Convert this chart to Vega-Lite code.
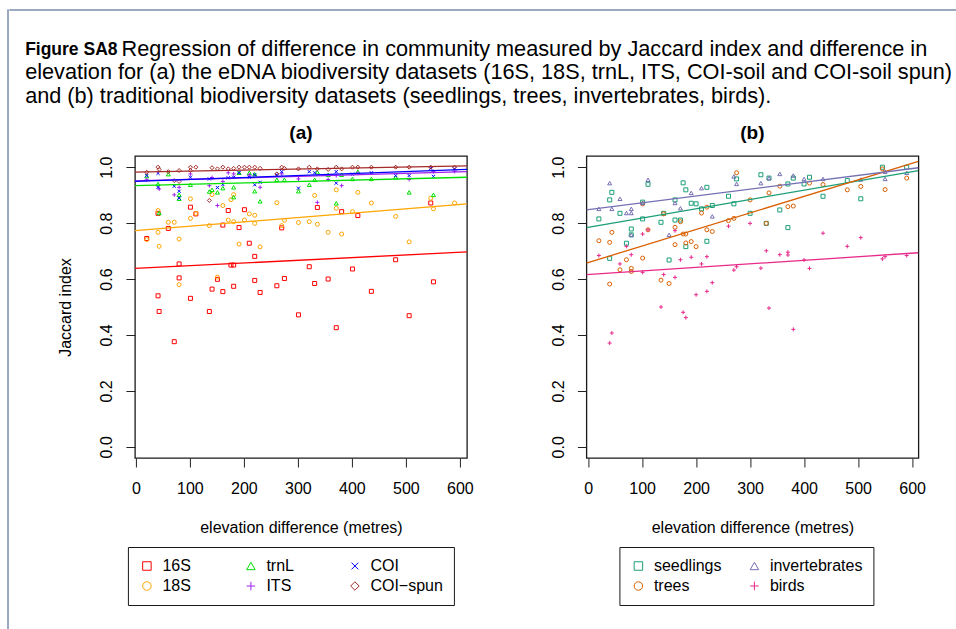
{
  "$schema": "https://vega.github.io/schema/vega-lite/v6.json",
  "background": "white",
  "padding": {"left": 7, "top": 9, "right": 0, "bottom": 0},
  "config": {
    "font": "Liberation Sans",
    "view": {"stroke": "#1a1a1a", "strokeWidth": 1.3},
    "axis": {
      "domain": false,
      "grid": false,
      "tickColor": "#222222",
      "tickSize": 9,
      "tickWidth": 1,
      "labelFont": "Liberation Sans",
      "labelFontSize": 16,
      "labelColor": "black",
      "labelFlush": false,
      "labelOverlap": false,
      "titleFont": "Liberation Sans",
      "titleFontSize": 16,
      "titleFontWeight": "normal",
      "titleColor": "black"
    },
    "legend": {
      "labelFont": "Liberation Sans",
      "labelFontSize": 16,
      "labelColor": "black",
      "strokeColor": "#1a1a1a",
      "fillColor": "white",
      "cornerRadius": 0,
      "symbolStrokeWidth": 1,
      "symbolSize": 72,
      "rowPadding": 4,
      "labelOffset": 7.5
    },
    "title": {"font": "Liberation Sans", "color": "black"}
  },
  "datasets": {
    "edna": [
      {"dataset": "16S", "elev": 101, "jaccard": 0.857}, {"dataset": "16S", "elev": 111, "jaccard": 0.833},
      {"dataset": "16S", "elev": 171, "jaccard": 0.845}, {"dataset": "16S", "elev": 201, "jaccard": 0.848},
      {"dataset": "16S", "elev": 210, "jaccard": 0.728}, {"dataset": "16S", "elev": 220, "jaccard": 0.681},
      {"dataset": "16S", "elev": 191, "jaccard": 0.784}, {"dataset": "16S", "elev": 161, "jaccard": 0.793},
      {"dataset": "16S", "elev": 336, "jaccard": 0.856}, {"dataset": "16S", "elev": 381, "jaccard": 0.841},
      {"dataset": "16S", "elev": 411, "jaccard": 0.827}, {"dataset": "16S", "elev": 270, "jaccard": 0.783},
      {"dataset": "16S", "elev": 80, "jaccard": 0.654}, {"dataset": "16S", "elev": 176, "jaccard": 0.650},
      {"dataset": "16S", "elev": 181, "jaccard": 0.650}, {"dataset": "16S", "elev": 321, "jaccard": 0.644},
      {"dataset": "16S", "elev": 401, "jaccard": 0.636}, {"dataset": "16S", "elev": 481, "jaccard": 0.669},
      {"dataset": "16S", "elev": 80, "jaccard": 0.604}, {"dataset": "16S", "elev": 151, "jaccard": 0.599},
      {"dataset": "16S", "elev": 41, "jaccard": 0.540}, {"dataset": "16S", "elev": 101, "jaccard": 0.531},
      {"dataset": "16S", "elev": 141, "jaccard": 0.564}, {"dataset": "16S", "elev": 161, "jaccard": 0.555},
      {"dataset": "16S", "elev": 181, "jaccard": 0.574}, {"dataset": "16S", "elev": 220, "jaccard": 0.595},
      {"dataset": "16S", "elev": 230, "jaccard": 0.552}, {"dataset": "16S", "elev": 261, "jaccard": 0.576},
      {"dataset": "16S", "elev": 275, "jaccard": 0.602}, {"dataset": "16S", "elev": 331, "jaccard": 0.584},
      {"dataset": "16S", "elev": 356, "jaccard": 0.600}, {"dataset": "16S", "elev": 436, "jaccard": 0.556},
      {"dataset": "16S", "elev": 551, "jaccard": 0.590}, {"dataset": "16S", "elev": 43, "jaccard": 0.484},
      {"dataset": "16S", "elev": 136, "jaccard": 0.484}, {"dataset": "16S", "elev": 71, "jaccard": 0.376},
      {"dataset": "16S", "elev": 301, "jaccard": 0.472}, {"dataset": "16S", "elev": 371, "jaccard": 0.426},
      {"dataset": "16S", "elev": 506, "jaccard": 0.469}, {"dataset": "16S", "elev": 20, "jaccard": 0.745},
      {"dataset": "16S", "elev": 546, "jaccard": 0.872}, {"dataset": "16S", "elev": 60, "jaccard": 0.781},
      {"dataset": "16S", "elev": 41, "jaccard": 0.835},

      {"dataset": "18S", "elev": 101, "jaccard": 0.887}, {"dataset": "18S", "elev": 141, "jaccard": 0.902},
      {"dataset": "18S", "elev": 181, "jaccard": 0.902}, {"dataset": "18S", "elev": 176, "jaccard": 0.884},
      {"dataset": "18S", "elev": 161, "jaccard": 0.863}, {"dataset": "18S", "elev": 41, "jaccard": 0.845},
      {"dataset": "18S", "elev": 111, "jaccard": 0.835}, {"dataset": "18S", "elev": 101, "jaccard": 0.817},
      {"dataset": "18S", "elev": 171, "jaccard": 0.811}, {"dataset": "18S", "elev": 210, "jaccard": 0.833},
      {"dataset": "18S", "elev": 220, "jaccard": 0.828}, {"dataset": "18S", "elev": 201, "jaccard": 0.811},
      {"dataset": "18S", "elev": 181, "jaccard": 0.805}, {"dataset": "18S", "elev": 220, "jaccard": 0.799},
      {"dataset": "18S", "elev": 136, "jaccard": 0.791}, {"dataset": "18S", "elev": 60, "jaccard": 0.803},
      {"dataset": "18S", "elev": 71, "jaccard": 0.803}, {"dataset": "18S", "elev": 41, "jaccard": 0.767},
      {"dataset": "18S", "elev": 20, "jaccard": 0.741}, {"dataset": "18S", "elev": 80, "jaccard": 0.743},
      {"dataset": "18S", "elev": 43, "jaccard": 0.717}, {"dataset": "18S", "elev": 191, "jaccard": 0.725},
      {"dataset": "18S", "elev": 230, "jaccard": 0.715}, {"dataset": "18S", "elev": 261, "jaccard": 0.873},
      {"dataset": "18S", "elev": 275, "jaccard": 0.810}, {"dataset": "18S", "elev": 270, "jaccard": 0.791},
      {"dataset": "18S", "elev": 301, "jaccard": 0.802}, {"dataset": "18S", "elev": 321, "jaccard": 0.805},
      {"dataset": "18S", "elev": 336, "jaccard": 0.796}, {"dataset": "18S", "elev": 331, "jaccard": 0.899},
      {"dataset": "18S", "elev": 371, "jaccard": 0.919}, {"dataset": "18S", "elev": 371, "jaccard": 0.853},
      {"dataset": "18S", "elev": 381, "jaccard": 0.761}, {"dataset": "18S", "elev": 356, "jaccard": 0.767},
      {"dataset": "18S", "elev": 401, "jaccard": 0.841}, {"dataset": "18S", "elev": 411, "jaccard": 0.910},
      {"dataset": "18S", "elev": 436, "jaccard": 0.872}, {"dataset": "18S", "elev": 481, "jaccard": 0.824},
      {"dataset": "18S", "elev": 506, "jaccard": 0.733}, {"dataset": "18S", "elev": 546, "jaccard": 0.889},
      {"dataset": "18S", "elev": 551, "jaccard": 0.851}, {"dataset": "18S", "elev": 590, "jaccard": 0.872},
      {"dataset": "18S", "elev": 80, "jaccard": 0.580}, {"dataset": "18S", "elev": 151, "jaccard": 0.607},

      {"dataset": "trnL", "elev": 41, "jaccard": 0.940}, {"dataset": "trnL", "elev": 43, "jaccard": 0.836},
      {"dataset": "trnL", "elev": 101, "jaccard": 0.937}, {"dataset": "trnL", "elev": 80, "jaccard": 0.901},
      {"dataset": "trnL", "elev": 80, "jaccard": 0.887}, {"dataset": "trnL", "elev": 136, "jaccard": 0.913},
      {"dataset": "trnL", "elev": 141, "jaccard": 0.919}, {"dataset": "trnL", "elev": 151, "jaccard": 0.910},
      {"dataset": "trnL", "elev": 161, "jaccard": 0.925}, {"dataset": "trnL", "elev": 181, "jaccard": 0.928},
      {"dataset": "trnL", "elev": 181, "jaccard": 0.893}, {"dataset": "trnL", "elev": 220, "jaccard": 0.914},
      {"dataset": "trnL", "elev": 230, "jaccard": 0.878}, {"dataset": "trnL", "elev": 261, "jaccard": 0.955},
      {"dataset": "trnL", "elev": 275, "jaccard": 0.955}, {"dataset": "trnL", "elev": 301, "jaccard": 0.914},
      {"dataset": "trnL", "elev": 321, "jaccard": 0.937}, {"dataset": "trnL", "elev": 331, "jaccard": 0.955},
      {"dataset": "trnL", "elev": 356, "jaccard": 0.973}, {"dataset": "trnL", "elev": 371, "jaccard": 0.871},
      {"dataset": "trnL", "elev": 381, "jaccard": 0.973}, {"dataset": "trnL", "elev": 401, "jaccard": 0.958},
      {"dataset": "trnL", "elev": 436, "jaccard": 0.958}, {"dataset": "trnL", "elev": 481, "jaccard": 0.964},
      {"dataset": "trnL", "elev": 506, "jaccard": 0.910}, {"dataset": "trnL", "elev": 551, "jaccard": 0.901},
      {"dataset": "trnL", "elev": 210, "jaccard": 0.980}, {"dataset": "trnL", "elev": 191, "jaccard": 0.980},
      {"dataset": "trnL", "elev": 220, "jaccard": 0.975}, {"dataset": "trnL", "elev": 60, "jaccard": 0.975},
      {"dataset": "trnL", "elev": 336, "jaccard": 0.982}, {"dataset": "trnL", "elev": 411, "jaccard": 0.984},
      {"dataset": "trnL", "elev": 20, "jaccard": 0.968},

      {"dataset": "ITS", "elev": 43, "jaccard": 0.922}, {"dataset": "ITS", "elev": 71, "jaccard": 0.901},
      {"dataset": "ITS", "elev": 80, "jaccard": 0.928}, {"dataset": "ITS", "elev": 101, "jaccard": 0.976},
      {"dataset": "ITS", "elev": 136, "jaccard": 0.934}, {"dataset": "ITS", "elev": 141, "jaccard": 0.963},
      {"dataset": "ITS", "elev": 151, "jaccard": 0.863}, {"dataset": "ITS", "elev": 161, "jaccard": 0.949},
      {"dataset": "ITS", "elev": 181, "jaccard": 0.976}, {"dataset": "ITS", "elev": 230, "jaccard": 0.928},
      {"dataset": "ITS", "elev": 301, "jaccard": 0.958}, {"dataset": "ITS", "elev": 336, "jaccard": 0.874},
      {"dataset": "ITS", "elev": 356, "jaccard": 0.956}, {"dataset": "ITS", "elev": 381, "jaccard": 0.934},
      {"dataset": "ITS", "elev": 371, "jaccard": 0.970}, {"dataset": "ITS", "elev": 506, "jaccard": 0.956},
      {"dataset": "ITS", "elev": 551, "jaccard": 0.984}, {"dataset": "ITS", "elev": 171, "jaccard": 0.980},
      {"dataset": "ITS", "elev": 270, "jaccard": 0.976}, {"dataset": "ITS", "elev": 411, "jaccard": 0.978},
      {"dataset": "ITS", "elev": 20, "jaccard": 0.955}, {"dataset": "ITS", "elev": 210, "jaccard": 0.972},
      {"dataset": "ITS", "elev": 590, "jaccard": 0.985},

      {"dataset": "COI", "elev": 20, "jaccard": 0.970}, {"dataset": "COI", "elev": 41, "jaccard": 0.978},
      {"dataset": "COI", "elev": 41, "jaccard": 0.928}, {"dataset": "COI", "elev": 71, "jaccard": 0.932},
      {"dataset": "COI", "elev": 80, "jaccard": 0.914}, {"dataset": "COI", "elev": 80, "jaccard": 0.889},
      {"dataset": "COI", "elev": 101, "jaccard": 0.964}, {"dataset": "COI", "elev": 136, "jaccard": 0.958},
      {"dataset": "COI", "elev": 151, "jaccard": 0.927}, {"dataset": "COI", "elev": 161, "jaccard": 0.938},
      {"dataset": "COI", "elev": 171, "jaccard": 0.962}, {"dataset": "COI", "elev": 181, "jaccard": 0.964},
      {"dataset": "COI", "elev": 210, "jaccard": 0.964}, {"dataset": "COI", "elev": 220, "jaccard": 0.937},
      {"dataset": "COI", "elev": 230, "jaccard": 0.946}, {"dataset": "COI", "elev": 261, "jaccard": 0.973},
      {"dataset": "COI", "elev": 270, "jaccard": 0.984}, {"dataset": "COI", "elev": 301, "jaccard": 0.925},
      {"dataset": "COI", "elev": 321, "jaccard": 0.984}, {"dataset": "COI", "elev": 331, "jaccard": 0.980},
      {"dataset": "COI", "elev": 371, "jaccard": 0.943}, {"dataset": "COI", "elev": 371, "jaccard": 0.984},
      {"dataset": "COI", "elev": 401, "jaccard": 0.975}, {"dataset": "COI", "elev": 436, "jaccard": 0.980},
      {"dataset": "COI", "elev": 481, "jaccard": 0.970}, {"dataset": "COI", "elev": 506, "jaccard": 0.970},
      {"dataset": "COI", "elev": 551, "jaccard": 0.967}, {"dataset": "COI", "elev": 546, "jaccard": 0.996},
      {"dataset": "COI", "elev": 590, "jaccard": 0.994}, {"dataset": "COI", "elev": 191, "jaccard": 0.980},
      {"dataset": "COI", "elev": 220, "jaccard": 0.973},

      {"dataset": "COI-spun", "elev": 20, "jaccard": 0.982}, {"dataset": "COI-spun", "elev": 41, "jaccard": 1.0},
      {"dataset": "COI-spun", "elev": 43, "jaccard": 0.992}, {"dataset": "COI-spun", "elev": 60, "jaccard": 0.984},
      {"dataset": "COI-spun", "elev": 80, "jaccard": 0.988}, {"dataset": "COI-spun", "elev": 80, "jaccard": 0.949},
      {"dataset": "COI-spun", "elev": 71, "jaccard": 0.952}, {"dataset": "COI-spun", "elev": 101, "jaccard": 1.0},
      {"dataset": "COI-spun", "elev": 111, "jaccard": 1.0}, {"dataset": "COI-spun", "elev": 101, "jaccard": 0.988},
      {"dataset": "COI-spun", "elev": 136, "jaccard": 0.881}, {"dataset": "COI-spun", "elev": 141, "jaccard": 0.998},
      {"dataset": "COI-spun", "elev": 151, "jaccard": 0.994}, {"dataset": "COI-spun", "elev": 161, "jaccard": 1.0},
      {"dataset": "COI-spun", "elev": 171, "jaccard": 0.994}, {"dataset": "COI-spun", "elev": 181, "jaccard": 0.996},
      {"dataset": "COI-spun", "elev": 191, "jaccard": 1.0}, {"dataset": "COI-spun", "elev": 201, "jaccard": 1.0},
      {"dataset": "COI-spun", "elev": 210, "jaccard": 1.0}, {"dataset": "COI-spun", "elev": 220, "jaccard": 1.0},
      {"dataset": "COI-spun", "elev": 230, "jaccard": 0.996}, {"dataset": "COI-spun", "elev": 270, "jaccard": 1.0},
      {"dataset": "COI-spun", "elev": 275, "jaccard": 0.996}, {"dataset": "COI-spun", "elev": 301, "jaccard": 0.994},
      {"dataset": "COI-spun", "elev": 321, "jaccard": 1.0}, {"dataset": "COI-spun", "elev": 336, "jaccard": 0.994},
      {"dataset": "COI-spun", "elev": 356, "jaccard": 0.992}, {"dataset": "COI-spun", "elev": 371, "jaccard": 1.0},
      {"dataset": "COI-spun", "elev": 381, "jaccard": 0.994}, {"dataset": "COI-spun", "elev": 401, "jaccard": 1.0},
      {"dataset": "COI-spun", "elev": 411, "jaccard": 1.0}, {"dataset": "COI-spun", "elev": 436, "jaccard": 1.0},
      {"dataset": "COI-spun", "elev": 481, "jaccard": 1.0}, {"dataset": "COI-spun", "elev": 506, "jaccard": 1.0},
      {"dataset": "COI-spun", "elev": 546, "jaccard": 1.0}, {"dataset": "COI-spun", "elev": 590, "jaccard": 1.0},
      {"dataset": "COI-spun", "elev": 261, "jaccard": 0.976}
    ],
    "ednaFit": [
      {"dataset": "16S", "elev": -1.85, "jaccard": 0.638}, {"dataset": "16S", "elev": 612.95, "jaccard": 0.697},
      {"dataset": "18S", "elev": -1.85, "jaccard": 0.773}, {"dataset": "18S", "elev": 612.95, "jaccard": 0.869},
      {"dataset": "trnL", "elev": -1.85, "jaccard": 0.934}, {"dataset": "trnL", "elev": 612.95, "jaccard": 0.964},
      {"dataset": "ITS", "elev": -1.85, "jaccard": 0.951}, {"dataset": "ITS", "elev": 612.95, "jaccard": 0.984},
      {"dataset": "COI", "elev": -1.85, "jaccard": 0.949}, {"dataset": "COI", "elev": 612.95, "jaccard": 0.992},
      {"dataset": "COI-spun", "elev": -1.85, "jaccard": 0.982}, {"dataset": "COI-spun", "elev": 612.95, "jaccard": 1.005}
    ],
    "trad": [
      {"survey": "seedlings", "elev": 44, "jaccard": 0.910}, {"survey": "seedlings", "elev": 40, "jaccard": 0.883},
      {"survey": "seedlings", "elev": 59, "jaccard": 0.835}, {"survey": "seedlings", "elev": 20, "jaccard": 0.815},
      {"survey": "seedlings", "elev": 80, "jaccard": 0.779}, {"survey": "seedlings", "elev": 80, "jaccard": 0.758},
      {"survey": "seedlings", "elev": 71, "jaccard": 0.728}, {"survey": "seedlings", "elev": 40, "jaccard": 0.674},
      {"survey": "seedlings", "elev": 111, "jaccard": 0.939}, {"survey": "seedlings", "elev": 101, "jaccard": 0.875},
      {"survey": "seedlings", "elev": 101, "jaccard": 0.815}, {"survey": "seedlings", "elev": 135, "jaccard": 0.803},
      {"survey": "seedlings", "elev": 140, "jaccard": 0.835}, {"survey": "seedlings", "elev": 150, "jaccard": 0.668},
      {"survey": "seedlings", "elev": 161, "jaccard": 0.883}, {"survey": "seedlings", "elev": 161, "jaccard": 0.811},
      {"survey": "seedlings", "elev": 171, "jaccard": 0.811}, {"survey": "seedlings", "elev": 176, "jaccard": 0.944},
      {"survey": "seedlings", "elev": 181, "jaccard": 0.919}, {"survey": "seedlings", "elev": 181, "jaccard": 0.716},
      {"survey": "seedlings", "elev": 191, "jaccard": 0.871}, {"survey": "seedlings", "elev": 200, "jaccard": 0.869},
      {"survey": "seedlings", "elev": 210, "jaccard": 0.851}, {"survey": "seedlings", "elev": 220, "jaccard": 0.928},
      {"survey": "seedlings", "elev": 220, "jaccard": 0.735}, {"survey": "seedlings", "elev": 230, "jaccard": 0.863},
      {"survey": "seedlings", "elev": 260, "jaccard": 0.896}, {"survey": "seedlings", "elev": 270, "jaccard": 0.869},
      {"survey": "seedlings", "elev": 275, "jaccard": 0.958}, {"survey": "seedlings", "elev": 300, "jaccard": 0.835},
      {"survey": "seedlings", "elev": 320, "jaccard": 0.973}, {"survey": "seedlings", "elev": 330, "jaccard": 0.799},
      {"survey": "seedlings", "elev": 335, "jaccard": 0.961}, {"survey": "seedlings", "elev": 355, "jaccard": 0.847},
      {"survey": "seedlings", "elev": 370, "jaccard": 0.940}, {"survey": "seedlings", "elev": 370, "jaccard": 0.784},
      {"survey": "seedlings", "elev": 380, "jaccard": 0.961}, {"survey": "seedlings", "elev": 400, "jaccard": 0.940},
      {"survey": "seedlings", "elev": 410, "jaccard": 0.964}, {"survey": "seedlings", "elev": 435, "jaccard": 0.896},
      {"survey": "seedlings", "elev": 480, "jaccard": 0.952}, {"survey": "seedlings", "elev": 505, "jaccard": 0.887},
      {"survey": "seedlings", "elev": 545, "jaccard": 1.0}, {"survey": "seedlings", "elev": 590, "jaccard": 1.0},

      {"survey": "trees", "elev": 20, "jaccard": 0.737}, {"survey": "trees", "elev": 40, "jaccard": 0.731},
      {"survey": "trees", "elev": 44, "jaccard": 0.767}, {"survey": "trees", "elev": 40, "jaccard": 0.582},
      {"survey": "trees", "elev": 59, "jaccard": 0.633}, {"survey": "trees", "elev": 71, "jaccard": 0.669},
      {"survey": "trees", "elev": 80, "jaccard": 0.638}, {"survey": "trees", "elev": 80, "jaccard": 0.627},
      {"survey": "trees", "elev": 101, "jaccard": 0.869}, {"survey": "trees", "elev": 101, "jaccard": 0.675},
      {"survey": "trees", "elev": 111, "jaccard": 0.776}, {"survey": "trees", "elev": 135, "jaccard": 0.596},
      {"survey": "trees", "elev": 140, "jaccard": 0.833}, {"survey": "trees", "elev": 150, "jaccard": 0.584},
      {"survey": "trees", "elev": 161, "jaccard": 0.785}, {"survey": "trees", "elev": 161, "jaccard": 0.723},
      {"survey": "trees", "elev": 171, "jaccard": 0.805}, {"survey": "trees", "elev": 176, "jaccard": 0.761},
      {"survey": "trees", "elev": 181, "jaccard": 0.761}, {"survey": "trees", "elev": 181, "jaccard": 0.729},
      {"survey": "trees", "elev": 191, "jaccard": 0.734}, {"survey": "trees", "elev": 200, "jaccard": 0.716},
      {"survey": "trees", "elev": 210, "jaccard": 0.836}, {"survey": "trees", "elev": 220, "jaccard": 0.857},
      {"survey": "trees", "elev": 220, "jaccard": 0.776}, {"survey": "trees", "elev": 230, "jaccard": 0.770},
      {"survey": "trees", "elev": 260, "jaccard": 0.809}, {"survey": "trees", "elev": 270, "jaccard": 0.817},
      {"survey": "trees", "elev": 275, "jaccard": 0.980}, {"survey": "trees", "elev": 300, "jaccard": 0.883},
      {"survey": "trees", "elev": 330, "jaccard": 0.799}, {"survey": "trees", "elev": 335, "jaccard": 0.908},
      {"survey": "trees", "elev": 355, "jaccard": 0.932}, {"survey": "trees", "elev": 370, "jaccard": 0.859},
      {"survey": "trees", "elev": 380, "jaccard": 0.861}, {"survey": "trees", "elev": 410, "jaccard": 0.943},
      {"survey": "trees", "elev": 435, "jaccard": 0.938}, {"survey": "trees", "elev": 480, "jaccard": 0.919},
      {"survey": "trees", "elev": 505, "jaccard": 0.931}, {"survey": "trees", "elev": 545, "jaccard": 0.994},
      {"survey": "trees", "elev": 550, "jaccard": 0.920}, {"survey": "trees", "elev": 590, "jaccard": 0.961},

      {"survey": "invertebrates", "elev": 40, "jaccard": 0.943}, {"survey": "invertebrates", "elev": 59, "jaccard": 0.887},
      {"survey": "invertebrates", "elev": 20, "jaccard": 0.851}, {"survey": "invertebrates", "elev": 44, "jaccard": 0.851},
      {"survey": "invertebrates", "elev": 71, "jaccard": 0.836}, {"survey": "invertebrates", "elev": 80, "jaccard": 0.836},
      {"survey": "invertebrates", "elev": 80, "jaccard": 0.851}, {"survey": "invertebrates", "elev": 80, "jaccard": 0.758},
      {"survey": "invertebrates", "elev": 111, "jaccard": 0.955}, {"survey": "invertebrates", "elev": 101, "jaccard": 0.872},
      {"survey": "invertebrates", "elev": 150, "jaccard": 0.758}, {"survey": "invertebrates", "elev": 161, "jaccard": 0.872},
      {"survey": "invertebrates", "elev": 171, "jaccard": 0.853}, {"survey": "invertebrates", "elev": 191, "jaccard": 0.908},
      {"survey": "invertebrates", "elev": 210, "jaccard": 0.925}, {"survey": "invertebrates", "elev": 230, "jaccard": 0.824},
      {"survey": "invertebrates", "elev": 270, "jaccard": 0.967}, {"survey": "invertebrates", "elev": 275, "jaccard": 0.940},
      {"survey": "invertebrates", "elev": 320, "jaccard": 0.943}, {"survey": "invertebrates", "elev": 335, "jaccard": 0.961},
      {"survey": "invertebrates", "elev": 355, "jaccard": 0.976}, {"survey": "invertebrates", "elev": 380, "jaccard": 0.970},
      {"survey": "invertebrates", "elev": 400, "jaccard": 0.958}, {"survey": "invertebrates", "elev": 435, "jaccard": 0.958},
      {"survey": "invertebrates", "elev": 505, "jaccard": 0.956}, {"survey": "invertebrates", "elev": 550, "jaccard": 0.984},
      {"survey": "invertebrates", "elev": 550, "jaccard": 0.958}, {"survey": "invertebrates", "elev": 590, "jaccard": 0.980},

      {"survey": "birds", "elev": 20, "jaccard": 0.684}, {"survey": "birds", "elev": 59, "jaccard": 0.654},
      {"survey": "birds", "elev": 71, "jaccard": 0.717}, {"survey": "birds", "elev": 80, "jaccard": 0.687},
      {"survey": "birds", "elev": 101, "jaccard": 0.761}, {"survey": "birds", "elev": 101, "jaccard": 0.624},
      {"survey": "birds", "elev": 111, "jaccard": 0.776}, {"survey": "birds", "elev": 140, "jaccard": 0.616},
      {"survey": "birds", "elev": 161, "jaccard": 0.606}, {"survey": "birds", "elev": 161, "jaccard": 0.773},
      {"survey": "birds", "elev": 171, "jaccard": 0.669}, {"survey": "birds", "elev": 191, "jaccard": 0.678},
      {"survey": "birds", "elev": 210, "jaccard": 0.654}, {"survey": "birds", "elev": 220, "jaccard": 0.680},
      {"survey": "birds", "elev": 230, "jaccard": 0.587}, {"survey": "birds", "elev": 220, "jaccard": 0.556},
      {"survey": "birds", "elev": 200, "jaccard": 0.544}, {"survey": "birds", "elev": 260, "jaccard": 0.789},
      {"survey": "birds", "elev": 270, "jaccard": 0.632}, {"survey": "birds", "elev": 275, "jaccard": 0.644},
      {"survey": "birds", "elev": 300, "jaccard": 0.799}, {"survey": "birds", "elev": 320, "jaccard": 0.639},
      {"survey": "birds", "elev": 330, "jaccard": 0.701}, {"survey": "birds", "elev": 355, "jaccard": 0.687},
      {"survey": "birds", "elev": 370, "jaccard": 0.696}, {"survey": "birds", "elev": 370, "jaccard": 0.686},
      {"survey": "birds", "elev": 400, "jaccard": 0.668}, {"survey": "birds", "elev": 410, "jaccard": 0.638},
      {"survey": "birds", "elev": 435, "jaccard": 0.764}, {"survey": "birds", "elev": 480, "jaccard": 0.717},
      {"survey": "birds", "elev": 505, "jaccard": 0.748}, {"survey": "birds", "elev": 545, "jaccard": 0.672},
      {"survey": "birds", "elev": 550, "jaccard": 0.680}, {"survey": "birds", "elev": 590, "jaccard": 0.684},
      {"survey": "birds", "elev": 135, "jaccard": 0.500}, {"survey": "birds", "elev": 176, "jaccard": 0.481},
      {"survey": "birds", "elev": 181, "jaccard": 0.462}, {"survey": "birds", "elev": 335, "jaccard": 0.496},
      {"survey": "birds", "elev": 380, "jaccard": 0.420}, {"survey": "birds", "elev": 44, "jaccard": 0.407},
      {"survey": "birds", "elev": 40, "jaccard": 0.371}
    ],
    "tradFit": [
      {"survey": "seedlings", "elev": -3.1, "jaccard": 0.784}, {"survey": "seedlings", "elev": 611.7, "jaccard": 0.988},
      {"survey": "trees", "elev": -3.1, "jaccard": 0.657}, {"survey": "trees", "elev": 611.7, "jaccard": 1.021},
      {"survey": "invertebrates", "elev": -3.1, "jaccard": 0.847}, {"survey": "invertebrates", "elev": 611.7, "jaccard": 0.998},
      {"survey": "birds", "elev": -3.1, "jaccard": 0.616}, {"survey": "birds", "elev": 611.7, "jaccard": 0.694}
    ]
  },
  "hconcat": [
    {
      "width": 0.01,
      "height": 660,
      "data": {"values": []},
      "mark": "point",
      "view": {"stroke": "#7a8cab", "strokeWidth": 1.5}
    },
    {
      "vconcat": [
        {
          "width": 1040,
          "height": 0.01,
          "data": {"values": []},
          "mark": "point",
          "view": {"stroke": "#7a8cab", "strokeWidth": 1.5},
          "title": {
            "text": "Figure SA8",
            "subtitle": [
              "\u200b\u00a0\u00a0\u00a0\u00a0\u00a0\u00a0\u00a0\u00a0\u00a0\u00a0\u00a0\u00a0\u00a0\u00a0\u00a0\u00a0Regression of difference in community measured by Jaccard index and difference in",
              "elevation for (a) the eDNA biodiversity datasets (16S, 18S, trnL, ITS, COI-soil and COI-soil spun)",
              "and (b) traditional biodiversity datasets (seedlings, trees, invertebrates, birds)."
            ],
            "anchor": "start",
            "orient": "bottom",
            "frame": "group",
            "baseline": "top",
            "offset": 31,
            "dx": 15,
            "font": "Liberation Sans",
            "fontSize": 17.5,
            "fontWeight": "bold",
            "color": "black",
            "subtitleFont": "Liberation Sans",
            "subtitleFontSize": 21.7,
            "subtitleColor": "black",
            "subtitleLineHeight": 23.5,
            "subtitlePadding": -19.6
          }
        },
        {
          "hconcat": [
            {
              "width": 332,
              "height": 302,
              "title": {"text": "(a)", "fontSize": 19, "fontWeight": "bold", "offset": 13},
              "layer": [
                {
                  "data": {"name": "edna"},
                  "mark": {"type": "point", "filled": false, "size": 16, "strokeWidth": 1, "opacity": 1, "clip": true},
                  "encoding": {
                    "x": {"field": "elev", "type": "quantitative",
                          "scale": {"domain": [-1.85, 612.95], "nice": false, "zero": false},
                          "axis": {"values": [0, 100, 200, 300, 400, 500, 600], "labelPadding": 13, "titlePadding": 23},
                          "title": "elevation difference (metres)"},
                    "y": {"field": "jaccard", "type": "quantitative",
                          "scale": {"domain": [-0.04, 1.04], "nice": false, "zero": false},
                          "axis": {"values": [0, 0.2, 0.4, 0.6, 0.8, 1.0], "format": ".1f", "labelAngle": 270,
                                   "labelAlign": "center", "labelBaseline": "alphabetic", "labelPadding": 14,
                                   "titlePadding": 25},
                          "title": "Jaccard index"},
                    "color": {"field": "dataset", "type": "nominal",
                              "scale": {"domain": ["16S", "18S", "trnL", "ITS", "COI", "COI-spun"],
                                        "range": ["#ff0000", "#ffa500", "#00e000", "#a020f0", "#0000ff", "#a52a2a"]},
                              "legend": {"orient": "none", "legendX": -7, "legendY": 391, "columns": 3,
                                         "title": null, "padding": 11, "columnPadding": 8, "gridAlign": "all",
                                         "labelExpr": "replace(datum.label, '-', '\u2212')"}},
                    "shape": {"field": "dataset", "type": "nominal",
                              "scale": {"domain": ["16S", "18S", "trnL", "ITS", "COI", "COI-spun"],
                                        "range": ["square", "circle", "triangle-up", "M-1,0L1,0M0,-1L0,1", "M-0.8,-0.8L0.8,0.8M0.8,-0.8L-0.8,0.8", "diamond"]},
                              "legend": {"orient": "none", "legendX": -7, "legendY": 391, "columns": 3,
                                         "title": null, "padding": 11, "columnPadding": 8, "gridAlign": "all",
                                         "labelExpr": "replace(datum.label, '-', '\u2212')"}}
                  }
                },
                {
                  "data": {"name": "ednaFit"},
                  "mark": {"type": "line", "strokeWidth": 1.3, "clip": true},
                  "encoding": {
                    "x": {"field": "elev", "type": "quantitative"},
                    "y": {"field": "jaccard", "type": "quantitative"},
                    "color": {"field": "dataset", "type": "nominal", "legend": null},
                    "detail": {"field": "dataset"}
                  }
                }
              ]
            },
            {
              "width": 332,
              "height": 302,
              "title": {"text": "(b)", "fontSize": 19, "fontWeight": "bold", "offset": 13},
              "layer": [
                {
                  "data": {"name": "trad"},
                  "mark": {"type": "point", "filled": false, "size": 16, "strokeWidth": 1, "opacity": 1, "clip": true},
                  "encoding": {
                    "x": {"field": "elev", "type": "quantitative",
                          "scale": {"domain": [-3.1, 611.7], "nice": false, "zero": false},
                          "axis": {"values": [0, 100, 200, 300, 400, 500, 600], "labelPadding": 13, "titlePadding": 23},
                          "title": "elevation difference (metres)"},
                    "y": {"field": "jaccard", "type": "quantitative",
                          "scale": {"domain": [-0.04, 1.04], "nice": false, "zero": false},
                          "axis": {"values": [0, 0.2, 0.4, 0.6, 0.8, 1.0], "format": ".1f", "labelAngle": 270,
                                   "labelAlign": "center", "labelBaseline": "alphabetic", "labelPadding": 14},
                          "title": null},
                    "color": {"field": "survey", "type": "nominal",
                              "scale": {"domain": ["seedlings", "trees", "invertebrates", "birds"],
                                        "range": ["#1b9e77", "#d95f02", "#7570b3", "#e7298a"]},
                              "legend": {"orient": "none", "legendX": 33, "legendY": 391, "columns": 2,
                                         "title": null, "padding": 11, "columnPadding": -2.5, "gridAlign": "all"}},
                    "shape": {"field": "survey", "type": "nominal",
                              "scale": {"domain": ["seedlings", "trees", "invertebrates", "birds"],
                                        "range": ["square", "circle", "triangle-up", "M-1,0L1,0M0,-1L0,1"]},
                              "legend": {"orient": "none", "legendX": 33, "legendY": 391, "columns": 2,
                                         "title": null, "padding": 11, "columnPadding": -2.5, "gridAlign": "all"}}
                  }
                },
                {
                  "data": {"name": "tradFit"},
                  "mark": {"type": "line", "strokeWidth": 1.3, "clip": true},
                  "encoding": {
                    "x": {"field": "elev", "type": "quantitative"},
                    "y": {"field": "jaccard", "type": "quantitative"},
                    "color": {"field": "survey", "type": "nominal", "legend": null},
                    "detail": {"field": "survey"}
                  }
                }
              ]
            }
          ],
          "spacing": 119.5,
          "bounds": "flush",
          "resolve": {
            "scale": {"color": "independent", "shape": "independent"},
            "legend": {"color": "independent", "shape": "independent"}
          }
        }
      ],
      "spacing": 14,
      "center": true
    }
  ],
  "spacing": 0
}
